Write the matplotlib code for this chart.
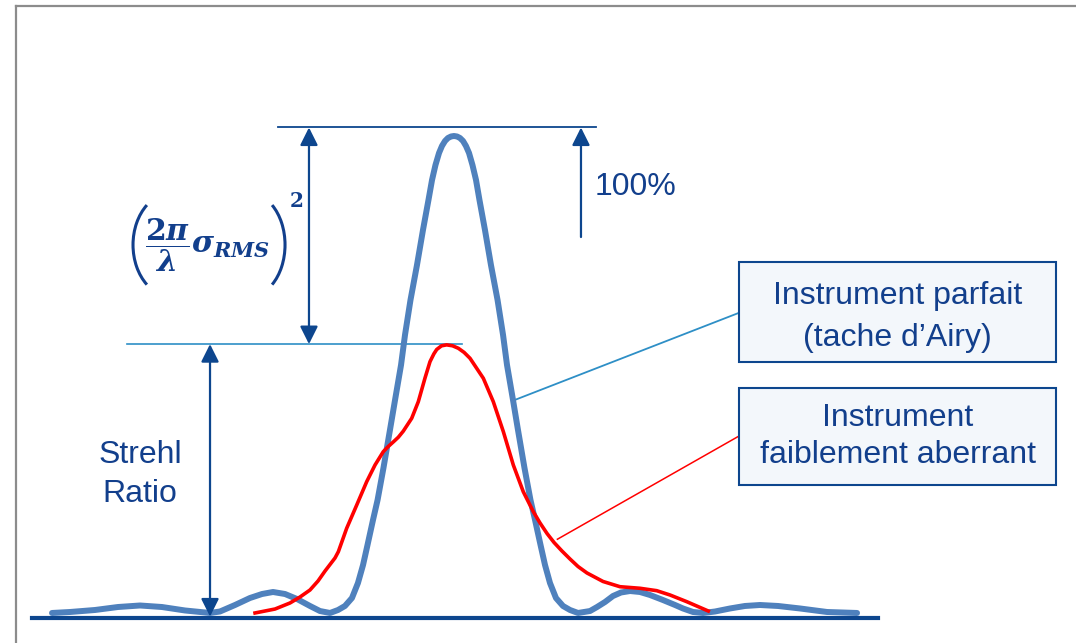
import matplotlib
matplotlib.use('Agg')
import matplotlib.pyplot as plt
from matplotlib.patches import Rectangle, Arc
from matplotlib.lines import Line2D

# Airy pattern (perfect instrument): position in lambda/D, normalised intensity
blue_u = [-3.976, -3.799, -3.553, -3.327, -3.110, -2.894, -2.667, -2.421, -2.323, -2.175,
          -2.028, -1.909, -1.801, -1.683, -1.565, -1.437, -1.339,
          -1.240, -1.161, -1.093, -1.024, -0.965, -0.915, -0.871, -0.817, -0.772, -0.714,
          -0.650, -0.600, -0.541, -0.502, -0.448, -0.384, -0.325, -0.271, -0.236, -0.202,
          -0.167, -0.138, -0.108, -0.079, -0.049, -0.020,
          0.010, 0.039, 0.069, 0.098, 0.128, 0.162, 0.197, 0.231, 0.285, 0.344,
          0.409, 0.463, 0.502, 0.561, 0.610, 0.674, 0.733, 0.778, 0.832, 0.876,
          0.925, 0.984, 1.053, 1.122, 1.201,
          1.319, 1.388, 1.467, 1.545, 1.624, 1.713, 1.811, 1.909, 2.037, 2.156,
          2.234, 2.333, 2.431, 2.549, 2.697, 2.844, 2.992, 3.169, 3.386, 3.652, 3.947]
blue_i = [0.0072, 0.0092, 0.0133, 0.0194, 0.0225, 0.0194, 0.0123, 0.0072, 0.0102, 0.0235,
          0.0378, 0.0460, 0.0501, 0.0460, 0.0358, 0.0215, 0.0112,
          0.0072, 0.0133, 0.0215, 0.0378, 0.0685, 0.1053, 0.1462, 0.1973, 0.2382, 0.3037,
          0.3814, 0.4427, 0.5143, 0.5757, 0.6472, 0.7188, 0.7904, 0.8517, 0.8926, 0.9233,
          0.9479, 0.9622, 0.9724, 0.9785, 0.9816, 0.9826,
          0.9816, 0.9785, 0.9724, 0.9622, 0.9479, 0.9233, 0.8926, 0.8517, 0.7904, 0.7188,
          0.6472, 0.5757, 0.5143, 0.4427, 0.3814, 0.3037, 0.2382, 0.1973, 0.1462, 0.1053,
          0.0685, 0.0378, 0.0215, 0.0133, 0.0072,
          0.0112, 0.0194, 0.0297, 0.0419, 0.0491, 0.0521, 0.0501, 0.0440, 0.0337, 0.0235,
          0.0164, 0.0092, 0.0072, 0.0102, 0.0164, 0.0215, 0.0235, 0.0215, 0.0164, 0.0092, 0.0072]

# weakly aberrated instrument
red_u = [-1.978, -1.781, -1.634, -1.535, -1.437, -1.358, -1.289, -1.191, -1.158, -1.076,
         -0.977, -0.879, -0.797, -0.716, -0.665, -0.617, -0.568, -0.519, -0.436, -0.371,
         -0.305, -0.256, -0.218, -0.190, -0.143, -0.092, -0.034, 0.023, 0.080, 0.138,
         0.269, 0.367, 0.466, 0.564, 0.662, 0.761, 0.827, 0.896, 0.965, 1.043,
         1.122, 1.201, 1.289, 1.447, 1.614, 1.811, 1.975, 2.106, 2.271, 2.483]
red_i = [0.0072, 0.0153, 0.0276, 0.0399, 0.0542, 0.0726, 0.0930, 0.1196, 0.1325, 0.1804,
         0.2280, 0.2757, 0.3098, 0.3370, 0.3480, 0.3570, 0.3665, 0.3790, 0.4053, 0.4393,
         0.4877, 0.5211, 0.5370, 0.5460, 0.5535, 0.5555, 0.5536, 0.5485, 0.5400, 0.5280,
         0.4871, 0.4393, 0.3779, 0.3098, 0.2552, 0.2143, 0.1912, 0.1697, 0.1513, 0.1339,
         0.1176, 0.1022, 0.0890, 0.0716, 0.0609, 0.0577, 0.0528, 0.0440, 0.0303, 0.0112]

peak = 1.0
strehl = 0.557

dark = '#0D468E'
txt = '#123F8C'
light = '#2E8FC6'
airy_col = '#4F81BD'

fig = plt.figure(figsize=(10.76, 6.43), dpi=100)
ax = fig.add_axes([0, 0, 1, 1])
ax.set_xlim(-4.488, 6.102)
ax.set_ylim(-0.0542, 1.2607)
ax.axis('off')

# grey frame
fig.add_artist(Line2D([0.0149, 1.0], [0.9907, 0.9907], color='#8C8C8C', lw=1.6))
fig.add_artist(Line2D([0.0149, 0.0149], [0.0, 0.9907], color='#8C8C8C', lw=1.6))

# reference lines
ax.plot([-1.752, 1.378], [peak, peak], color=dark, lw=1.3, zorder=2)
ax.plot([-3.238, 0.059], [strehl, strehl], color=light, lw=1.2, zorder=2)

# curves
ax.plot(blue_u, blue_i, color=airy_col, lw=4.3, solid_capstyle='round',
        solid_joinstyle='round', zorder=3)
ax.plot(red_u, red_i, color='#FF0000', lw=2.6, solid_joinstyle='round', zorder=4)
ax.plot([-4.173, 4.154], [-0.003, -0.003], color=dark, lw=3.0, zorder=5)

# arrows
arr = dict(color=dark, lw=1.6, mutation_scale=27, shrinkA=0, shrinkB=0)
ax.annotate('', xy=(-1.447, peak), xytext=(-1.447, strehl),
            arrowprops=dict(arrowstyle='<|-|>', **arr), zorder=6)
ax.annotate('', xy=(-2.421, strehl), xytext=(-2.421, 0),
            arrowprops=dict(arrowstyle='<|-|>', **arr), zorder=6)
ax.annotate('', xy=(1.230, peak), xytext=(1.230, 0.776),
            arrowprops=dict(arrowstyle='-|>', **arr), zorder=6)

ax.text(1.368, 0.878, '100%', color=txt, fontsize=23, family='Liberation Sans',
        va='center', ha='left')
ax.text(-3.110, 0.290, 'Strehl\nRatio', color=txt, fontsize=23, family='Liberation Sans',
        va='center', ha='center', linespacing=1.38)

# formula (2 pi / lambda * sigma_RMS)^2
plt.rcParams['mathtext.fontset'] = 'custom'
plt.rcParams['mathtext.rm'] = 'DejaVu Serif:bold'
plt.rcParams['mathtext.it'] = 'DejaVu Serif:italic:bold'
plt.rcParams['mathtext.bf'] = 'DejaVu Serif:bold'
ax.text(-2.441, 0.760, r'$\dfrac{2\pi}{\lambda}\sigma_{RMS}$',
        color=txt, fontsize=21.5, va='center', ha='center')
# parentheses as thin arcs (angles given in data space)
ax.add_patch(Arc((-2.795, 0.760), 2 * 39 / 101.6, 2 * 52 / 489, theta1=161.8, theta2=198.2,
                 color=txt, lw=2.2))
ax.add_patch(Arc((-2.041, 0.760), 2 * 36.4 / 101.6, 2 * 52 / 489, theta1=-19.4, theta2=19.4,
                 color=txt, lw=2.2))
ax.text(-1.570, 0.848, r'$\mathbf{2}$', color=txt, fontsize=14.5, va='center', ha='center')

# legend boxes with connectors
ax.plot([0.581, 2.785], [0.443, 0.621], color=light, lw=1.3, zorder=2)
ax.plot([0.998, 2.785], [0.158, 0.369], color='#FF0000', lw=1.1, zorder=2)
boxes = [(0.5205, 0.7249, 'Instrument parfait\n(tache d\u2019Airy)', 1.49, -0.010),
         (0.2689, 0.4673, 'Instrument\nfaiblement aberrant', 1.32, 0.0)]
for (y0, y1, label, ls, dy) in boxes:
    ax.add_patch(Rectangle((2.785, y0), 5.906 - 2.785, y1 - y0, facecolor='#F3F7FB',
                           edgecolor=dark, lw=1.5, zorder=7))
    ax.text((2.785 + 5.906) / 2, (y0 + y1) / 2 + dy, label, color=txt, fontsize=23,
            family='Liberation Sans', ha='center', va='center', linespacing=ls, zorder=8)

fig.savefig('out.png', dpi=100)
